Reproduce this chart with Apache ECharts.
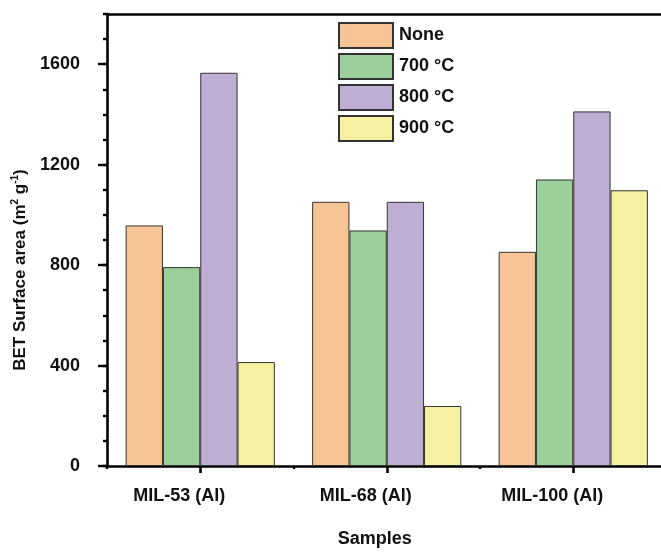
<!DOCTYPE html>
<html>
<head>
<meta charset="utf-8">
<script src="https://cdn.jsdelivr.net/npm/echarts@6/dist/echarts.min.js"></script>
<style>html,body{margin:0;padding:0;background:#fff}#c{width:661px;height:554px}</style>
</head>
<body>
<div id="c"></div>
<script>
const categories = ['MIL-53 (Al)', 'MIL-68 (Al)', 'MIL-100 (Al)'];
const seriesNames = ['None', '700 °C', '800 °C', '900 °C'];
const valuesNone = [958, 1052, 853];
const values700 = [792, 938, 1141];
const values800 = [1566, 1052, 1412];
const values900 = [414, 239, 1098];
const colors = ['#F6C495', '#9BD09B', '#BEAED3', '#F5F1A0'];
const yTickValues = [0, 400, 800, 1200, 1600];

const FONT = "'Liberation Sans', Arial, sans-serif";
const chart = echarts.init(document.getElementById('c'), null, {renderer: 'canvas'});
const allValues = [valuesNone, values700, values800, values900];

const option = {
  animation: false,
  backgroundColor: '#fff',
  textStyle: {fontFamily: FONT},
  grid: {left: 107, top: 14, bottom: 88, width: 559.5, containLabel: false, outerBoundsMode: 'none'},
  legend: {
    orient: 'vertical', left: 338, top: 22, padding: 0,
    itemWidth: 54, itemHeight: 25, itemGap: 4,
    icon: 'rect',
    data: seriesNames,
    textStyle: {fontFamily: FONT, fontSize: 18, fontWeight: 'bold', color: '#111', padding: [0, 0, 0, 1]}
  },
  xAxis: [
    {
      type: 'category', data: categories, position: 'bottom',
      axisLine: {show: true, lineStyle: {color: '#000', width: 2.6}},
      axisTick: {show: true, alignWithLabel: true, length: 7, lineStyle: {color: '#000', width: 2.6}},
      axisLabel: {fontFamily: FONT, fontSize: 18, fontWeight: 'bold', color: '#111', margin: 21, padding: [0, 42, 0, 0]},
      name: 'Samples', nameLocation: 'middle', nameGap: 64,
      nameTextStyle: {fontFamily: FONT, fontSize: 18, fontWeight: 'bold', color: '#111', padding: [0, 24, 0, 0]}
    },
    {
      type: 'category', data: categories, position: 'bottom',
      axisLine: {show: false},
      axisTick: {show: true, length: 3, lineStyle: {color: '#000', width: 2.4}},
      axisLabel: {show: false}
    },
    {
      type: 'category', data: categories, position: 'top',
      axisLine: {show: true, lineStyle: {color: '#000', width: 2.6}},
      axisTick: {show: false},
      axisLabel: {show: false}
    }
  ],
  yAxis: [
    {
      type: 'value', min: 0, max: 1800, interval: 400, position: 'left',
      splitLine: {show: false},
      axisLine: {show: true, lineStyle: {color: '#000', width: 2.6}},
      axisTick: {show: true, length: 9, customValues: yTickValues, lineStyle: {color: '#000', width: 2.4}},
      axisLabel: {customValues: yTickValues, formatter: v => String(v), fontFamily: FONT, fontSize: 18, fontWeight: 'bold', color: '#111', margin: 27},
      name: 'BET Surface area (m{s|2} g{s|-1})', nameLocation: 'middle', nameGap: 76, nameRotate: 90,
      nameTextStyle: {
        fontFamily: FONT, fontSize: 17, fontWeight: 'bold', color: '#111', padding: [0, 60, 0, 0],
        rich: {s: {fontFamily: FONT, fontSize: 10, fontWeight: 'bold', color: '#111', verticalAlign: 'top', lineHeight: 20}}
      }
    },
    {
      type: 'value', min: 0, max: 1800, interval: 100, position: 'left',
      splitLine: {show: false},
      axisLine: {show: false},
      axisTick: {show: true, length: 4, lineStyle: {color: '#000', width: 2.4}},
      axisLabel: {show: false}
    }
  ],
  series: seriesNames.map((n, i) => ({
    name: n, type: 'bar', xAxisIndex: 0, yAxisIndex: 0,
    data: allValues[i],
    barGap: '0%', barCategoryGap: '20%',
    itemStyle: {color: colors[i], borderColor: '#333', borderWidth: 1}
  }))
};
chart.setOption(option);
</script>
</body>
</html>
